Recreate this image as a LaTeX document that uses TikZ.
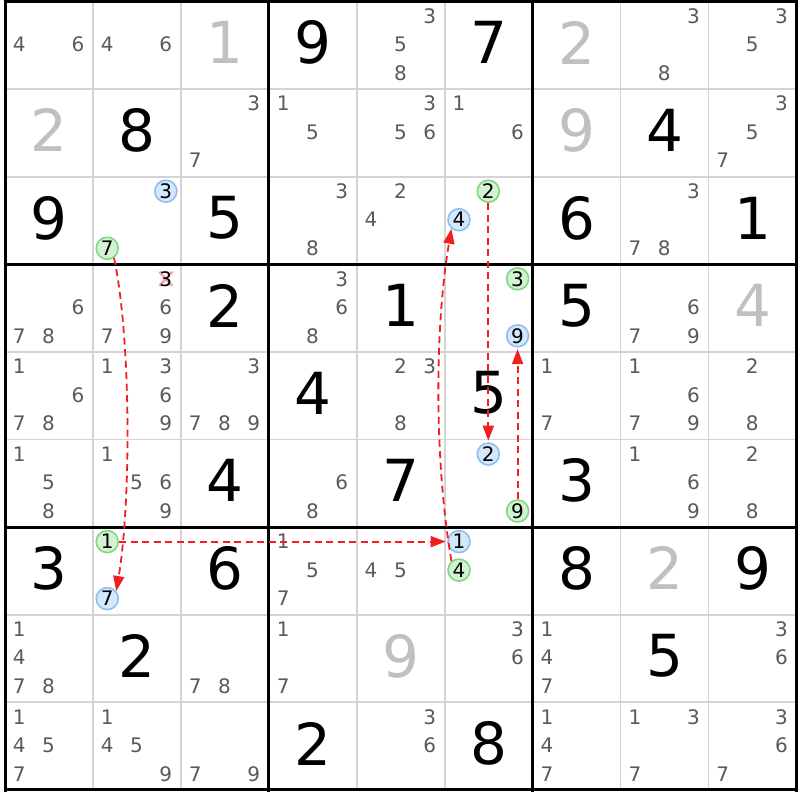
\documentclass[tikz,border=0pt]{standalone}
\usepackage{fontspec}
\setmainfont{DejaVu Sans}
\usetikzlibrary{arrows.meta}
\definecolor{candgray}{HTML}{5A5A5A}
\definecolor{givengray}{HTML}{C0C0C0}
\definecolor{thingray}{HTML}{D4D4D4}
\definecolor{arrred}{HTML}{F02020}
\definecolor{gfill}{HTML}{D3F1D3}
\definecolor{gline}{HTML}{80D880}
\definecolor{bfill}{HTML}{D5E7FA}
\definecolor{bline}{HTML}{8CC0F2}
\definecolor{xpink}{HTML}{F6A4B4}
\newcommand\candxy[3]{%
 \pgfmathsetmacro\px{5+87.94*(#2-1)+14.3+29.3*mod(#3-1,3)}%
 \pgfmathsetmacro\py{1.5+87.6*(#1-1)+14.5+28.5*floor((#3-1)/3)}}
\newcommand\cellxy[2]{%
 \pgfmathsetmacro\px{5+87.94*(#2-0.5)}%
 \pgfmathsetmacro\py{1.5+87.6*(#1-0.5)-2.5}}
\begin{document}
\begin{tikzpicture}[x=1pt,y=-1pt,
 cand/.style={inner sep=0pt,text=candgray,font=\fontsize{20}{20}\selectfont},
 big/.style={inner sep=0pt,font=\fontsize{58}{58}\selectfont},
 hl/.style={circle,inner sep=0pt,minimum size=22pt,line width=1.6pt,text=black,font=\fontsize{20}{20}\selectfont},
 gc/.style={hl,draw=gline,fill=gfill},
 bc/.style={hl,draw=bline,fill=bfill},
 link/.style={color=arrred,line width=1.8pt,dash pattern=on 7pt off 4.5pt,-{Triangle[length=15pt,width=11pt]}},
 thinline/.style={draw=thingray,line width=1.7pt},
 thickline/.style={draw=black,line width=3pt},
 ]
\useasboundingbox (0,0) rectangle (800,800);
\fill[white] (0,0) rectangle (800,800);
% thin grid lines
\foreach \i in {1,2,4,5,7,8}{
  \draw[thinline] (5+87.94*\i,1.5) -- (5+87.94*\i,790);
  \draw[thinline] (5,1.5+87.6*\i) -- (796.5,1.5+87.6*\i);
}
% big digits
\foreach \r/\c/\d/\col in {1/3/1/givengray,1/4/9/black,1/6/7/black,1/7/2/givengray,
  2/1/2/givengray,2/2/8/black,2/7/9/givengray,2/8/4/black,
  3/1/9/black,3/3/5/black,3/7/6/black,3/9/1/black,
  4/3/2/black,4/5/1/black,4/7/5/black,4/9/4/givengray,
  5/4/4/black,5/6/5/black,
  6/3/4/black,6/5/7/black,6/7/3/black,
  7/1/3/black,7/3/6/black,7/7/8/black,7/8/2/givengray,7/9/9/black,
  8/2/2/black,8/5/9/givengray,8/8/5/black,
  9/4/2/black,9/6/8/black}{
  \cellxy{\r}{\c}
  \node[big,text=\col] (v\r\c) at (\px,\py) {\d};
}
% candidates
\foreach \r/\c/\ds in {1/1/{4,6},1/2/{4,6},1/5/{3,5,8},1/8/{3,8},1/9/{3,5},
  2/3/{3,7},2/4/{1,5},2/5/{3,5,6},2/6/{1,6},2/9/{3,5,7},
  3/4/{3,8},3/5/{2,4},3/8/{3,7,8},
  4/1/{6,7,8},4/2/{6,7,9},4/4/{3,6,8},4/8/{6,7,9},
  5/1/{1,6,7,8},5/2/{1,3,6,9},5/3/{3,7,8,9},5/5/{2,3,8},5/7/{1,7},5/8/{1,6,7,9},5/9/{2,8},
  6/1/{1,5,8},6/2/{1,5,6,9},6/4/{6,8},6/8/{1,6,9},6/9/{2,8},
  7/4/{1,5,7},7/5/{4,5},
  8/1/{1,4,7,8},8/3/{7,8},8/4/{1,7},8/6/{3,6},8/7/{1,4,7},8/9/{3,6},
  9/1/{1,4,5,7},9/2/{1,4,5,9},9/3/{7,9},9/5/{3,6},9/7/{1,4,7},9/8/{1,3,7},9/9/{3,6,7}}{
  \foreach \d in \ds {
    \candxy{\r}{\c}{\d}
    \node[cand] (c\r\c\d) at (\px,\py) {\d};
  }
}
% eliminated candidate
\candxy{4}{2}{3}
\draw[xpink,line width=2.5pt] (\px-6.5,\py-7) -- (\px+6.5,\py+7) (\px-6.5,\py+7) -- (\px+6.5,\py-7);
\node[cand,text=black] (c423) at (\px,\py) {3};
% highlighted candidates
\foreach \r/\c/\d/\sty/\nm in {3/2/3/bc/b3,3/2/7/gc/g7,3/6/2/gc/g2,3/6/4/bc/b4,
  4/6/3/gc/g3,4/6/9/bc/b9,6/6/2/bc/b2,6/6/9/gc/g9,
  7/2/1/gc/g1,7/2/7/bc/b7,7/6/1/bc/b1,7/6/4/gc/g4}{
  \candxy{\r}{\c}{\d}
  \node[\sty] (\nm) at (\px,\py) {\d};
}
% thick lines
\foreach \i in {0,3,6,9}{
  \draw[thickline] (5+87.94*\i,0) -- (5+87.94*\i,791.5);
  \draw[thickline] (3.5,1.5+87.6*\i) -- (798,1.5+87.6*\i);
}
% links
\draw[link] (g7.-55) .. controls +(17,80) and +(15,-90) .. (b7.40);
\draw[link,shorten >=1.5pt] (g1.east) -- (b1.west);
\draw[link] (g4.130) .. controls +(-17,-100) and +(-17,100) .. (b4.-130);
\draw[link,shorten >=1.5pt] (g2.south) -- (b2.north);
\draw[link,shorten >=1.5pt] (g9.north) -- (b9.south);
\end{tikzpicture}
\end{document}
